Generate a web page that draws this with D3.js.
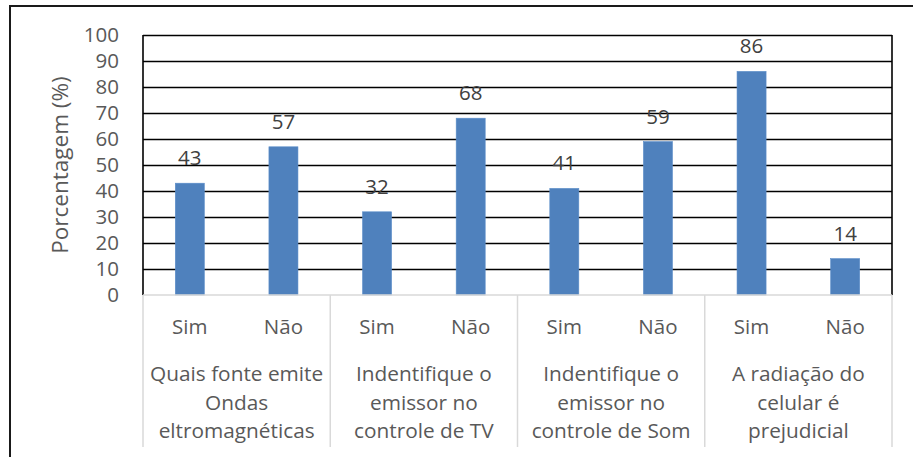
<!DOCTYPE html>
<html>
<head>
<meta charset="utf-8">
<script src="https://cdn.jsdelivr.net/npm/d3@7"></script>
<style>
  html, body { margin: 0; padding: 0; background: #fff; }
  svg { display: block; }
  text { font-family: "Open Sans", sans-serif; }
</style>
</head>
<body>
<svg id="chart" width="913" height="457"></svg>
<script>
// Survey questions (outer axis level), answers (inner level) and percentages
const groups = [
  ["Quais fonte emite", "Ondas", "eltromagnéticas"],
  ["Indentifique o", "emissor no", "controle de TV"],
  ["Indentifique o", "emissor no", "controle de Som"],
  ["A radiação do", "celular é", "prejudicial"]
];
const answers = ["Sim", "Não"];
const values = [43, 57, 32, 68, 41, 59, 86, 14];
const yTicks = [0, 10, 20, 30, 40, 50, 60, 70, 80, 90, 100];
const yTitle = "Porcentagem (%)";

const LABEL_SIZE = "20.5px";
const svg = d3.select("#chart");
const W = 913, H = 457;
const plot = { left: 143, right: 892, top: 35, bottom: 295 };

// Outer frame (left and top edges visible)
svg.append("path")
  .attr("d", `M10,${H} L10,6 L${W},6`)
  .attr("fill", "none").attr("stroke", "#1a1a1a").attr("stroke-width", 2);

// One band per bar
const barKeys = values.map((v, i) => i);
const x = d3.scaleBand().domain(barKeys).range([plot.left, plot.right]).paddingInner(0.69).paddingOuter(0.345);
const y = d3.scaleLinear().domain([0, 100]).range([plot.bottom, plot.top]);

// Horizontal gridlines
svg.append("g")
  .attr("transform", `translate(${plot.left},0)`)
  .call(d3.axisLeft(y).tickValues(yTicks.filter(t => t > 0)).tickSize(-(plot.right - plot.left)).tickFormat(""))
  .call(g => g.select(".domain").remove())
  .call(g => g.selectAll("line").attr("stroke", "#000").attr("stroke-width", 1.6));

// Plot frame: left axis and right border
svg.append("line").attr("x1", plot.left).attr("x2", plot.left).attr("y1", plot.top).attr("y2", plot.bottom)
  .attr("stroke", "#000").attr("stroke-width", 1.6);
svg.append("line").attr("x1", plot.right).attr("x2", plot.right).attr("y1", plot.top).attr("y2", plot.bottom)
  .attr("stroke", "#000").attr("stroke-width", 1.6);

// Y tick labels
svg.append("g")
  .attr("transform", `translate(${plot.left},0)`)
  .call(d3.axisLeft(y).tickValues(yTicks).tickSize(0).tickPadding(24))
  .call(g => g.select(".domain").remove())
  .call(g => g.selectAll("text")
    .attr("fill", "#595959").style("font-size", LABEL_SIZE).style("font-family", "'Open Sans', sans-serif"));

// Y axis title
svg.append("text")
  .attr("transform", `translate(68,${(plot.top + plot.bottom) / 2}) rotate(-90)`)
  .attr("text-anchor", "middle")
  .attr("fill", "#595959").style("font-size", "22.5px")
  .text(yTitle);

// Bars
svg.append("g").selectAll("rect").data(values).join("rect")
  .attr("x", (d, i) => x(i))
  .attr("y", d => y(d))
  .attr("width", x.bandwidth())
  .attr("height", d => y(0) - y(d))
  .attr("fill", "#4F81BD")
  .attr("stroke", "#5B8DC9").attr("stroke-width", 0.6);

// Value labels
svg.append("g").selectAll("text").data(values).join("text")
  .attr("x", (d, i) => x(i) + x.bandwidth() / 2)
  .attr("y", d => y(d) - 18)
  .attr("text-anchor", "middle")
  .attr("fill", "#404040").style("font-size", LABEL_SIZE)
  .text(d => d);

// Category axis baseline (light grey)
svg.append("line").attr("x1", plot.left).attr("x2", plot.right).attr("y1", plot.bottom).attr("y2", plot.bottom)
  .attr("stroke", "#D9D9D9").attr("stroke-width", 1.5);

// Group scale for the outer category level
const gx = d3.scaleBand().domain(groups.map((g, i) => i)).range([plot.left, plot.right]);

// Group separators
svg.append("g").selectAll("line").data(d3.range(groups.length + 1)).join("line")
  .attr("x1", i => i < groups.length ? gx(i) : plot.right)
  .attr("x2", i => i < groups.length ? gx(i) : plot.right)
  .attr("y1", plot.bottom).attr("y2", 447)
  .attr("stroke", "#D9D9D9").attr("stroke-width", 1.5);

// Inner level: Sim / Não
svg.append("g").selectAll("text").data(values).join("text")
  .attr("x", (d, i) => x(i) + x.bandwidth() / 2)
  .attr("y", 327)
  .attr("dy", "0.35em")
  .attr("text-anchor", "middle")
  .attr("fill", "#595959").style("font-size", LABEL_SIZE)
  .text((d, i) => answers[i % answers.length]);

// Outer level: question text, three lines each
const gLabels = svg.append("g").selectAll("text").data(groups).join("text")
  .attr("text-anchor", "middle")
  .attr("fill", "#595959").style("font-size", "20.8px");
gLabels.selectAll("tspan").data((d, i) => d.map(line => ({ line, i }))).join("tspan")
  .attr("x", d => gx(d.i) + gx.bandwidth() / 2)
  .attr("y", (d, j) => 374 + j * 28.5)
  .attr("dy", "0.35em")
  .text(d => d.line);
</script>
</body>
</html>
